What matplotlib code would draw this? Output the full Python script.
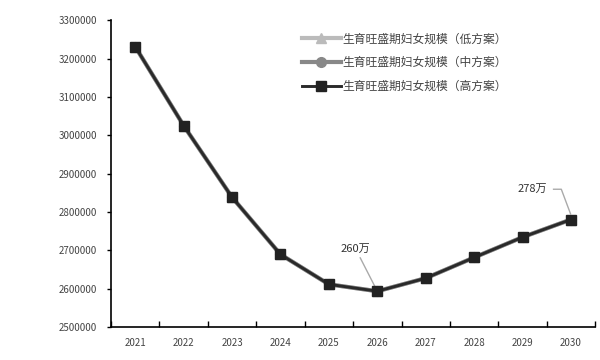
import numpy as np
import matplotlib
matplotlib.use('Agg')
import matplotlib.pyplot as plt
from matplotlib.ticker import FixedLocator

plt.rcParams['font.family'] = ['Noto Sans CJK SC', 'DejaVu Sans']

# 数据
years = ['2021', '2022', '2023', '2024', '2025', '2026', '2027', '2028', '2029', '2030']
low = [3231000, 3025000, 2838000, 2689000, 2611000, 2593000, 2627000, 2681000, 2734000, 2780000]
mid = [3231000, 3025000, 2838000, 2689000, 2611000, 2593000, 2627000, 2681000, 2734000, 2780000]
high = [3231000, 3025000, 2838000, 2689000, 2611000, 2593000, 2627000, 2681000, 2734000, 2780000]
names = ['生育旺盛期妇女规模（低方案）', '生育旺盛期妇女规模（中方案）', '生育旺盛期妇女规模（高方案）']
yticks = np.arange(2500000, 3300001, 100000)

fig = plt.figure(figsize=(6, 3.6), dpi=100)
ax = fig.add_axes([0.185, 0.092, 0.807, 0.852])

x = np.arange(len(years))
ax.plot(x, low, color='#bbbbbb', lw=3, marker='^', ms=7, label=names[0], zorder=2)
ax.plot(x, mid, color='#888888', lw=3, marker='o', ms=7, label=names[1], zorder=3)
ax.plot(x, high, color='#2a2a2a', lw=2.1, marker='s', ms=7, mfc='#222222', mec='#222222',
        label=names[2], zorder=4)

ax.set_xlim(-0.5, len(years) - 0.5)
ax.set_ylim(2500000, 3300000)
ax.set_yticks(yticks)
ax.set_yticklabels([str(v) for v in yticks])
ax.set_xticks(x)
ax.set_xticklabels(years)
ax.xaxis.set_minor_locator(FixedLocator(np.arange(-0.5, len(years), 1.0)))
ax.tick_params(axis='x', which='major', length=0, pad=8, labelsize=7, labelcolor='#444444')
ax.tick_params(axis='x', which='minor', length=4, direction='in', width=1)
ax.tick_params(axis='y', length=3, width=1, labelsize=7, labelcolor='#444444', pad=7)
for s in ['top', 'right']:
    ax.spines[s].set_visible(False)
for s in ['left', 'bottom']:
    ax.spines[s].set_linewidth(1.2)

# 标注
ax.annotate('260万', xy=(5, high[5]), xytext=(4.55, 2691000), fontsize=8, color='#333333',
            ha='center', va='bottom',
            arrowprops=dict(arrowstyle='-', color='#aaaaaa', lw=1, shrinkA=1, shrinkB=2))
y_lab = 2859000
ax.text(8.2, y_lab, '278万', fontsize=8, color='#333333', ha='center', va='center')
ax.plot([8.64, 8.80, 8.99], [y_lab, y_lab, high[9] + 15000], color='#aaaaaa', lw=1, zorder=1)

ax.legend(loc='upper left', bbox_to_anchor=(0.503, 0.91), bbox_transform=fig.transFigure,
          frameon=False, fontsize=8.5, borderpad=0, borderaxespad=0,
          handlelength=3.3, handletextpad=0.1, labelspacing=0.9, labelcolor='#444444')

fig.savefig('out.png', dpi=100)
